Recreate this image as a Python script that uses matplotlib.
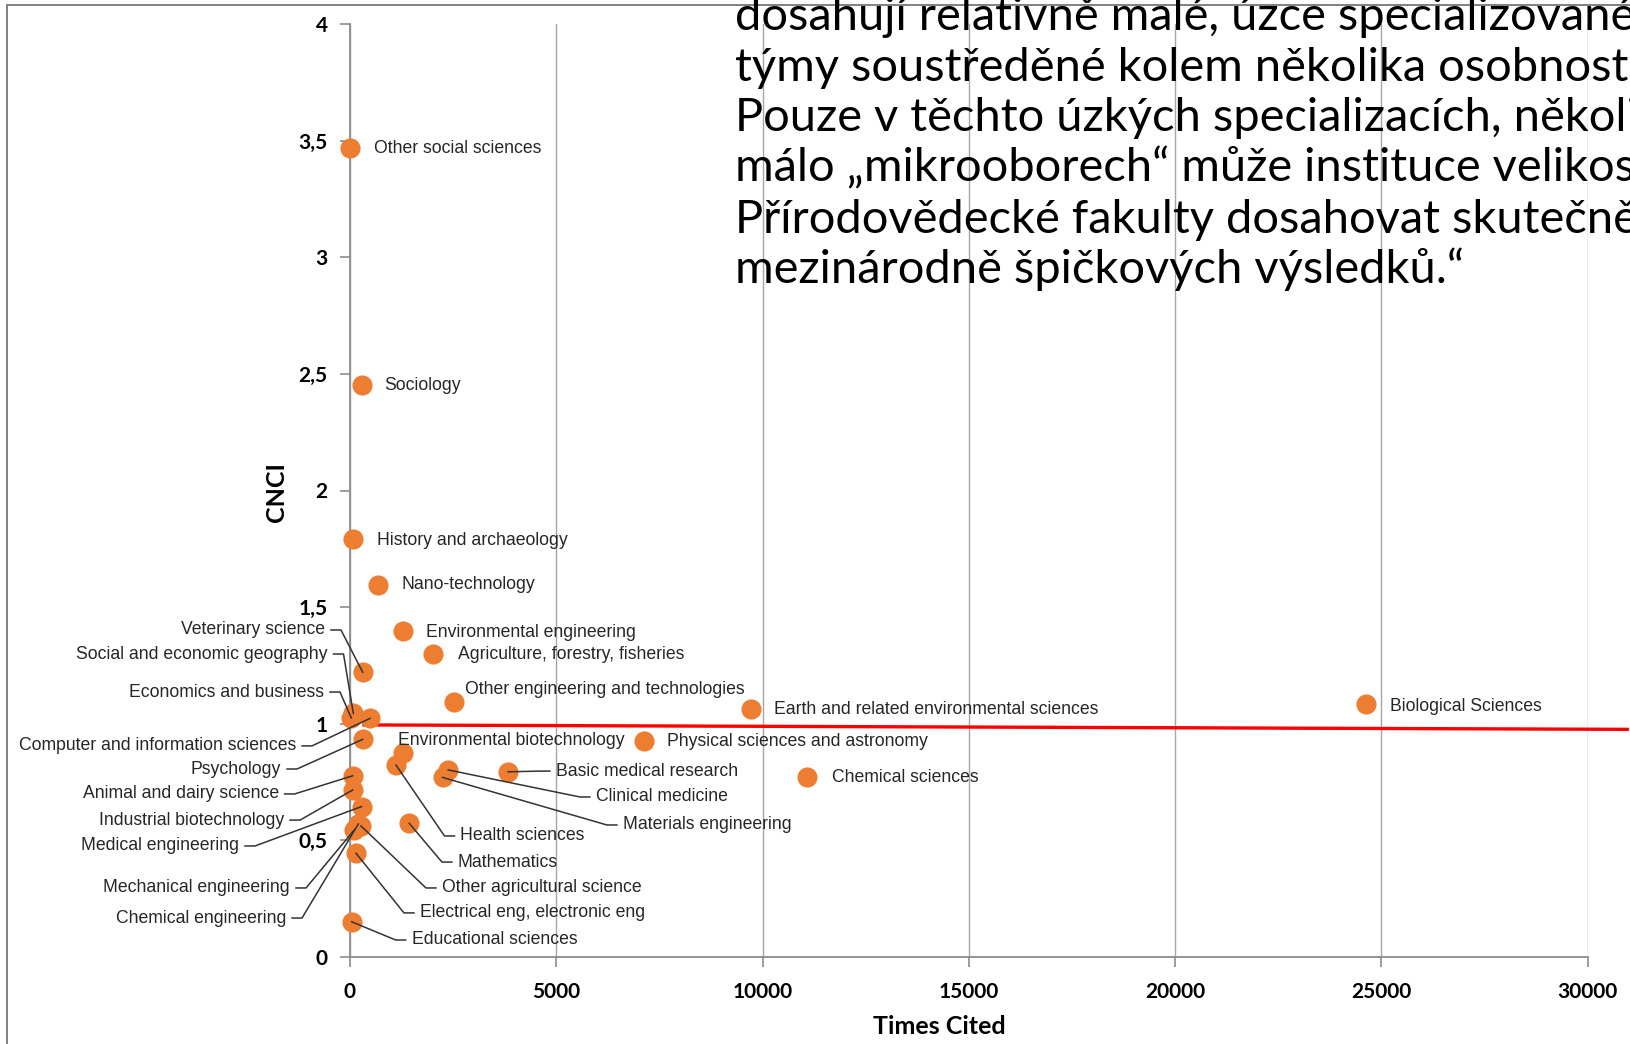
import matplotlib
matplotlib.use('Agg')
import matplotlib.pyplot as plt
from matplotlib.ticker import FuncFormatter, MultipleLocator
from matplotlib.lines import Line2D

# data: field, times cited, CNCI
fields = [
    'Other social sciences', 'Sociology', 'History and archaeology',
    'Nano-technology', 'Environmental engineering',
    'Agriculture, forestry, fisheries', 'Other engineering and technologies',
    'Earth and related environmental sciences', 'Biological Sciences',
    'Veterinary science', 'Social and economic geography',
    'Economics and business', 'Computer and information sciences',
    'Environmental biotechnology', 'Physical sciences and astronomy',
    'Psychology', 'Basic medical research', 'Clinical medicine',
    'Chemical sciences', 'Health sciences', 'Materials engineering',
    'Animal and dairy science', 'Industrial biotechnology',
    'Medical engineering', 'Mathematics', 'Other agricultural science',
    'Mechanical engineering', 'Chemical engineering',
    'Electrical eng, electronic eng', 'Educational sciences',
]
times_cited = [7, 284, 83, 670, 1276, 2018, 2529, 9729, 24630, 307, 80, 30,
               484, 1291, 7121, 307, 3834, 2381, 11085, 1114, 2245, 65, 65,
               280, 1436, 266, 105, 200, 145, 40]
cnci = [3.47, 2.454, 1.79, 1.595, 1.399, 1.299, 1.095, 1.063, 1.086, 1.221,
        1.045, 1.025, 1.023, 0.876, 0.926, 0.933, 0.794, 0.802, 0.773, 0.823,
        0.77, 0.777, 0.716, 0.645, 0.573, 0.562, 0.545, 0.57, 0.445, 0.151]

# label layout (data coords of text anchor), side and leader flag
label_x = [582, 838, 654, 1260, 1842, 2617, 2787, 10275, 25202, -606, -545,
           -630, -1309, 1163, 7682, -1672, 4992, 5961, 11680, 2678, 6616,
           -1730, -1599, -2690, 2617, 2229, -1454, -1551, 1696, 1493]
label_y = [3.466, 2.449, 1.786, 1.595, 1.393, 1.295, 1.145, 1.059, 1.076,
           1.402, 1.299, 1.136, 0.905, 0.93, 0.922, 0.806, 0.797, 0.686, 0.77,
           0.519, 0.566, 0.699, 0.587, 0.476, 0.407, 0.296, 0.296, 0.167,
           0.189, 0.073]
label_side = ['R'] * 9 + ['L'] * 4 + ['R', 'R', 'L', 'R', 'R', 'R', 'R', 'R',
                                      'L', 'L', 'L', 'R', 'R', 'L', 'L', 'R', 'R']
leader = [0] * 9 + [1] * 4 + [0, 0, 1, 1, 1, 0, 1, 1, 1, 1, 1, 1, 1, 1, 1, 1, 1]

# reference line CNCI ~ 1
ref_x = [300, 31000]
ref_y = [0.995, 0.976]

xticks = [0, 5000, 10000, 15000, 20000, 25000, 30000]

quote_lines = [
    'dosahují relativně malé, úzce specializované',
    'týmy soustředěné kolem několika osobností.',
    'Pouze v těchto úzkých specializacích, několika',
    'málo „mikrooborech“ může instituce velikosti',
    'Přírodovědecké fakulty dosahovat skutečně',
    'mezinárodně špičkových výsledků.“',
]

W, H = 1630, 1044
fig = plt.figure(figsize=(W / 100, H / 100), dpi=100)
ax = fig.add_axes([350 / W, 87 / H, 1238 / W, 933 / H])

orange = '#ED7D31'
ax.plot(times_cited, cnci, 'o', color=orange, ms=13.5, mec=orange, zorder=3,
        clip_on=False)
ax.plot(ref_x, ref_y, color='#FF0000', lw=2.4, zorder=2, clip_on=False,
        solid_capstyle='butt')

ax.set_xlim(0, 30010)
ax.set_ylim(0, 4)
ax.set_xticks(xticks)
ax.yaxis.set_major_locator(MultipleLocator(0.5))
ax.yaxis.set_major_formatter(FuncFormatter(lambda v, p: ('%g' % v).replace('.', ',')))
ax.grid(axis='x', color='#A6A6A6', lw=1.0)
ax.set_axisbelow(True)
for s in ['top', 'right']:
    ax.spines[s].set_visible(False)
for s in ['left', 'bottom']:
    ax.spines[s].set_color('#8C8C8C')
    ax.spines[s].set_linewidth(1.3)
ax.tick_params(axis='both', colors='#8C8C8C', length=7, width=1.2,
               labelcolor='black', labelsize=15)
ax.tick_params(axis='x', pad=11)
ax.tick_params(axis='y', pad=9)
for t in ax.get_xticklabels() + ax.get_yticklabels():
    t.set_fontfamily('Lato')
    t.set_fontweight('bold')

ax.set_xlabel('Times Cited', fontsize=18, fontweight='bold', fontfamily='Lato')
ax.set_ylabel('CNCI', fontsize=18, fontweight='bold', fontfamily='Lato')
ax.xaxis.set_label_coords(0.476, -0.062)
ax.yaxis.set_label_coords(-0.050, 0.498)

# labels + leader lines
px = 30000 / 1238.0
gap, tick = 6 * px, 10 * px
for i, name in enumerate(fields):
    lx, ly = label_x[i], label_y[i]
    if label_side[i] == 'R':
        ax.text(lx, ly, name, ha='left', va='center', fontsize=12.7,
                color='#262626', family='Liberation Sans', clip_on=False, zorder=4)
        if leader[i]:
            xs = [times_cited[i], lx - gap - tick, lx - gap]
            ax.plot(xs, [cnci[i], ly, ly], color='#333333', lw=1.1,
                    zorder=4, clip_on=False)
    else:
        ax.text(lx, ly, name, ha='right', va='center', fontsize=12.7,
                color='#262626', family='Liberation Sans', clip_on=False, zorder=4)
        if leader[i]:
            xs = [times_cited[i], lx + gap + tick, lx + gap]
            ax.plot(xs, [cnci[i], ly, ly], color='#333333', lw=1.1,
                    zorder=4, clip_on=False)

# slide text block (cut by the slide edge, as in the source)
baselines = [30, 81, 131, 182, 233, 283]
for line, b in zip(quote_lines, baselines):
    fig.text(735 / W, 1 - b / H, line, ha='left', va='baseline',
             fontsize=33.8, family='Lato', color='black')

# slide frame
fig.add_artist(Line2D([7 / W, 1], [1 - 5 / H, 1 - 5 / H], color='#808080', lw=1.4))
fig.add_artist(Line2D([7 / W, 7 / W], [0, 1 - 5 / H], color='#808080', lw=1.4))

fig.savefig('out.png', dpi=100)
